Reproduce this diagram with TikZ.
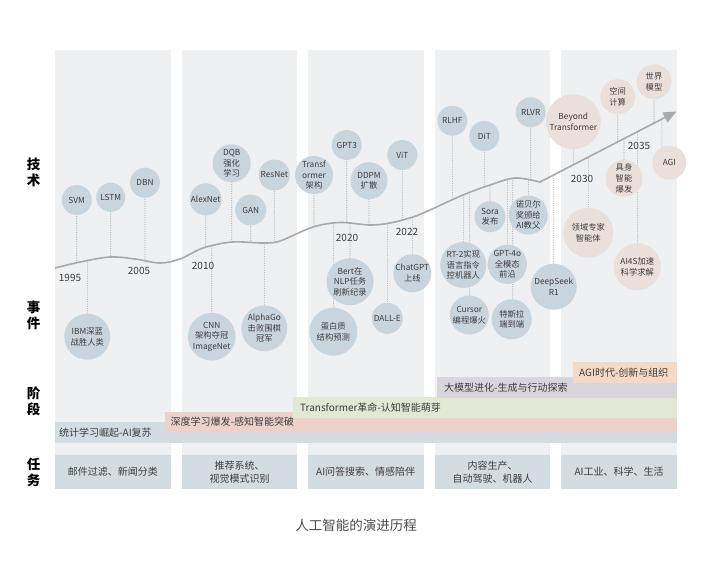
\documentclass[tikz,border=0pt]{standalone}
\usepackage{fontspec}
\setmainfont{Noto Sans CJK SC}
\usetikzlibrary{arrows.meta,intersections}
\definecolor{colbg}{HTML}{EEF0F2}
\definecolor{taskc}{HTML}{D3DCE1}
\definecolor{bandA}{HTML}{D3DCE1}
\definecolor{bandB}{HTML}{EBD2CB}
\definecolor{bandC}{HTML}{E3E8D4}
\definecolor{bandD}{HTML}{D9D5DC}
\definecolor{bandE}{HTML}{F4DAC6}
\definecolor{circB}{HTML}{C9D5DD}
\definecolor{circT}{HTML}{EAE0DB}
\definecolor{txt}{HTML}{3C3C3C}
\definecolor{curvec}{HTML}{A9A9A9}
\definecolor{dotc}{HTML}{A0A0A0}
\pgfdeclarelayer{back}
\pgfdeclarelayer{lines}
\pgfsetlayers{back,lines,main}
\newcommand\linkc[2][0]{%
  \path[name path global=vl] ([xshift=#1pt]#2.center) ++(0,-300) -- ++(0,600);
  \path[name intersections={of=curve and vl, by={#2c}}];
  \draw[conn] ([xshift=#1pt]#2.center) -- (#2c);
}
\begin{document}
\begin{tikzpicture}[x=1pt,y=-1pt,
  col/.style={fill=colbg, draw=none},
  taskbox/.style={fill=taskc, draw=none},
  bc/.style={circle, fill=circB, inner sep=0pt, minimum size=#1, text=txt, align=center, font=\fontsize{8.3}{10.6}\selectfont},
  tc/.style={bc=#1, fill=circT},
  conn/.style={draw=dotc, line width=0.6pt, dash pattern=on 1pt off 1.3pt},
  yr/.style={font=\fontsize{10}{12}\selectfont, text=txt, inner sep=0pt},
  rowlab/.style={font=\fontsize{13.5}{16}\selectfont\bfseries, align=center, text=black},
  bandtxt/.style={anchor=west, font=\fontsize{10}{12}\selectfont, text=txt, inner sep=0pt},
  tasktxt/.style={font=\fontsize{10}{12.5}\selectfont, align=center, text=txt, inner sep=0pt},
  curvestyle/.style={draw=curvec, line width=1.6pt}
]
\useasboundingbox (0,0) rectangle (708,582);

\begin{pgfonlayer}{back}
\fill[white] (0,0) rectangle (708,582);
% columns
\fill[col] (55,50) rectangle (170.5,489);
\fill[col] (182,50) rectangle (297,489);
\fill[col] (308,50) rectangle (423.5,489);
\fill[col] (435,50) rectangle (550,489);
\fill[col] (561,50) rectangle (677,489);
% task boxes
\fill[taskbox] (55,455) rectangle (170.5,489);
\fill[taskbox] (182,455) rectangle (297,489);
\fill[taskbox] (308,455) rectangle (423.5,489);
\fill[taskbox] (435,455) rectangle (550,489);
\fill[taskbox] (561,455) rectangle (677,489);
\node[tasktxt] (t1) at (112.75,472) {邮件过滤、新闻分类};
\node[tasktxt] (t2) at (239.5,472) {推荐系统、\\视觉模式识别};
\node[tasktxt] (t3) at (365.7,472) {AI问答搜索、情感陪伴};
\node[tasktxt] (t4) at (492.5,472) {内容生产、\\自动驾驶、机器人};
\node[tasktxt] (t5) at (619,472) {AI工业、科学、生活};
% stage bands
\fill[bandA] (55,422) rectangle (677,443);
\node[bandtxt] (s1) at (59,433) {统计学习崛起-AI复苏};
\fill[bandB] (165,412) rectangle (677,432);
\node[bandtxt] (s2) at (170.5,422) {深度学习爆发-感知智能突破};
\fill[bandC] (293,397) rectangle (677,418);
\node[bandtxt] (s3) at (300,407.5) {Transformer革命-认知智能萌芽};
\fill[bandD] (437,377) rectangle (677,398);
\node[bandtxt] (s4) at (444,388) {大模型进化-生成与行动探索};
\fill[bandE] (573,362) rectangle (677,383);
\node[bandtxt] (s5) at (579,373) {AGI时代-创新与组织};
% curve
\draw[curvestyle, name path global=curve, -{Triangle[length=13pt,width=11pt]}]
  plot[smooth, tension=0.55] coordinates {(55,268) (80,262) (110,257) (135,259) (160,263) (180,259) (203,248) (232,242) (263,243) (280,241) (313,227) (340,222.5) (370,225) (390,223) (413,217) (430,210) (463,195) (490,185) (515,178) (540,182)}
  -- (676.5,111.5);
\end{pgfonlayer}

% row labels
\node[rowlab] (r1) at (33.5,172) {技\\术};
\node[rowlab] (r2) at (33.5,315.5) {事\\件};
\node[rowlab] (r3) at (33.5,401.5) {阶\\段};
\node[rowlab] (r4) at (33.5,472.5) {任\\务};

% years
\node[yr] (y1995) at (70,278) {1995};
\node[yr] (y2005) at (139,271) {2005};
\node[yr] (y2010) at (203,266) {2010};
\node[yr] (y2020) at (347,238) {2020};
\node[yr] (y2022) at (407,232) {2022};
\node[yr] (y2030) at (582,179) {2030};
\node[yr] (y2035) at (639,146) {2035};

% column 1
\node[bc=30] (svm) at (76.7,200) {SVM};
\node[bc=29] (lstm) at (110.7,197.3) {LSTM};
\node[bc=30] (dbn) at (145,182.7) {DBN};
\node[bc=46] (ibm) at (87.3,336.7) {IBM深蓝\\战胜人类};
% column 2
\node[bc=32] (alexnet) at (205.7,199.3) {AlexNet};
\node[bc=38] (dqb) at (231.7,163.3) {DQB\\强化\\学习};
\node[bc=31] (gan) at (250.7,210) {GAN};
\node[bc=31] (resnet) at (274.3,175) {ResNet};
\node[bc=47] (cnn) at (211.7,336.7) {CNN\\架构夺冠\\ImageNet};
\node[bc=46] (alphago) at (264.3,328.3) {AlphaGo\\击败围棋\\冠军};
% column 3
\node[bc=38] (transf) at (314,175) {Transf\\ormer\\架构};
\node[bc=30] (gpt3) at (346.7,145) {GPT3};
\node[bc=37] (ddpm) at (369,180.7) {DDPM\\扩散};
\node[bc=30] (vit) at (402.3,155) {ViT};
\node[bc=47] (bert) at (350,281.7) {Bert在\\NLP任务\\刷新纪录};
\node[bc=48] (protein) at (333.3,331.7) {蛋白质\\结构预测};
\node[bc=31] (dalle) at (387.3,318.3) {DALL-E};
\node[bc=38] (chatgpt) at (412.3,273.3) {ChatGPT\\上线};
% column 4
\node[bc=30] (rlhf) at (452.3,120.7) {RLHF};
\node[bc=30] (dit) at (484.3,136) {DiT};
\node[bc=30] (rlvr) at (530.7,112.3) {RLVR};
\node[bc=31] (sora) at (490,216.7) {Sora\\发布};
\node[bc=39] (nobel) at (528.3,215) {诺贝尔\\奖颁给\\AI教父};
\node[bc=46] (rt2) at (463.3,265) {RT-2实现\\语言指令\\控机器人};
\node[bc=36] (gpt4o) at (507.3,264.3) {GPT-4o\\全模态\\前沿};
\node[bc=39] (cursor) at (469.3,315) {Cursor\\编程爆火};
\node[bc=40] (tesla) at (511.7,319.3) {特斯拉\\端到端};
\node[bc=46] (deepseek) at (553.7,286.7) {DeepSeek\\R1};
% column 5
\node[tc=55] (beyond) at (573.3,121.7) {Beyond\\Transformer};
\node[tc=35] (space) at (617.7,96.7) {空间\\计算};
\node[tc=35] (world) at (654,81.7) {世界\\模型};
\node[tc=37] (embodied) at (624,178.3) {具身\\智能\\爆发};
\node[tc=34] (agi) at (669.3,162.7) {AGI};
\node[tc=50] (expert) at (588.3,232.7) {领域专家\\智能体};
\node[tc=47] (ai4s) at (637.3,266.7) {AI4S加速\\科学求解};

% connectors
\begin{pgfonlayer}{lines}
\linkc{svm}\linkc{lstm}\linkc{dbn}\linkc{ibm}
\linkc{alexnet}\linkc{dqb}\linkc{gan}\linkc{resnet}\linkc{cnn}\linkc{alphago}
\linkc{transf}\linkc{gpt3}\linkc{ddpm}\linkc{vit}\linkc{bert}\linkc{protein}\linkc{dalle}\linkc{chatgpt}
\linkc{rlhf}\linkc{dit}\linkc{rlvr}\linkc{sora}\linkc{nobel}\linkc{rt2}\linkc{gpt4o}\linkc[1]{tesla}\linkc{cursor}\linkc{deepseek}
\linkc{beyond}\linkc{space}\linkc{world}\linkc{embodied}\linkc[-7.5]{agi}\linkc{expert}\linkc{ai4s}
\end{pgfonlayer}

% title
\node[font=\fontsize{13.5}{16}\selectfont, text=black!70] (title) at (356,525) {人工智能的演进历程};
\end{tikzpicture}
\end{document}
